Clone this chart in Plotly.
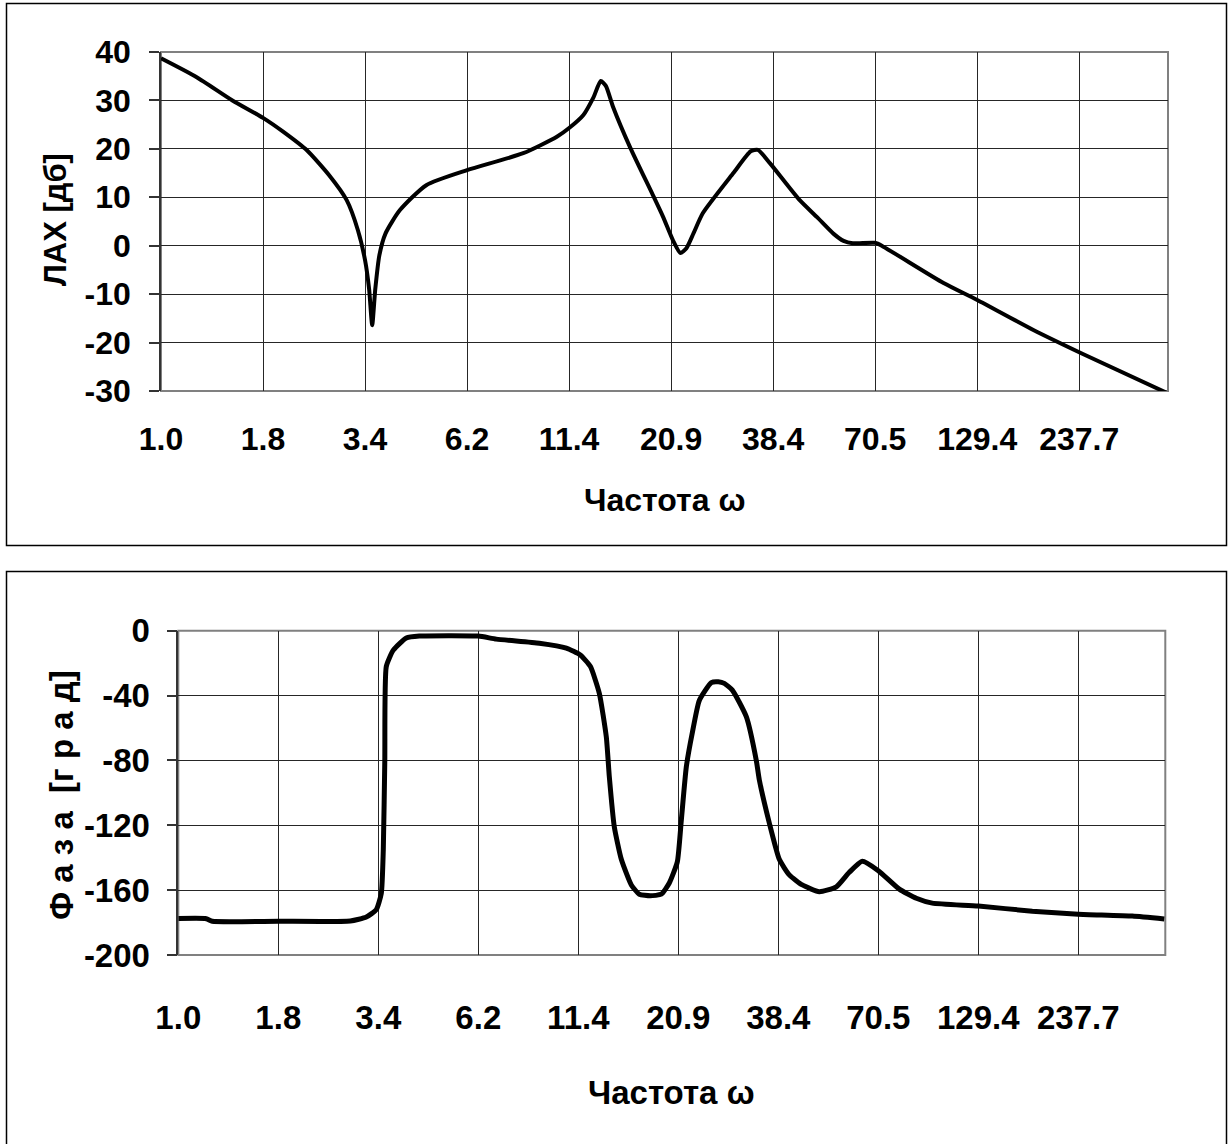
import plotly.graph_objects as go

# Frequency grid labels (equal spacing on a log scale)
tick_text = ["1.0", "1.8", "3.4", "6.2", "11.4", "20.9", "38.4", "70.5", "129.4", "237.7"]
tick_vals = [1.0, 1.8366, 3.3731, 6.1950, 11.378, 20.897, 38.379, 70.488, 129.46, 237.75]

mag_ticks = [-30, -20, -10, 0, 10, 20, 30, 40]
mag_tick_text = ["-30", "-20", "-10", "0", "10", "20", "30", "40"]
ph_ticks = [-200, -160, -120, -80, -40, 0]
ph_tick_text = ["-200", "-160", "-120", "-80", "-40", "0"]

# Magnitude response (ЛАХ), dB
w_mag = [1.000, 1.2371, 1.5304, 1.8366, 2.0740, 2.3853, 2.7266, 3.0234, 3.2325, 3.3731,
         3.4561, 3.5197, 3.5845, 3.6727, 3.8091, 4.1474, 4.8578, 6.1950, 8.6548, 10.577,
         11.378, 12.389, 13.166, 13.738, 14.162, 14.778, 16.387, 18.731, 19.905, 21.152,
         22.072, 22.892, 23.887, 25.230, 30.276, 33.572, 35.032, 37.683, 44.953, 49.847,
         54.940, 58.383, 61.666, 70.488, 73.995, 105.91, 129.46, 180.87, 240.66, 403.45]
mag_db = [38.7, 34.8, 30.0, 26.4, 23.5, 19.7, 14.5, 9.4, 3.2, -3.0,
          -9.0, -16.4, -9.0, -2.0, 2.5, 7.3, 12.5, 15.6, 19.1, 22.5,
          24.3, 27.0, 30.7, 34.0, 33.0, 28.7, 20.2, 10.5, 6.0, 1.0,
          -1.5, -0.5, 2.6, 6.7, 15.0, 19.5, 19.8, 17.0, 9.4, 5.9,
          2.5, 1.0, 0.5, 0.6, -0.2, -7.7, -11.2, -17.4, -22.2, -30.5]

# Phase response, degrees
w_ph = [1.000, 1.1856, 1.2296, 1.8366, 2.8451, 3.1357, 3.3325, 3.4352, 3.4772, 3.5091,
        3.5412, 3.6951, 3.9989, 4.3277, 6.1950, 6.9110, 8.9769, 10.577, 11.517, 12.239,
        12.928, 13.490, 13.738, 14.162, 14.778, 15.704, 16.486, 17.626, 18.845, 19.784,
        20.770, 21.281, 21.939, 22.754, 23.743, 25.540, 26.650, 27.640, 29.018, 31.595,
        33.572, 34.192, 36.335, 38.611, 41.032, 44.406, 49.245, 54.601, 59.096, 63.957,
        70.488, 80.081, 88.800, 97.871, 129.46, 179.77, 237.75, 330.19, 401.0]
phase_deg = [-177.5, -177.6, -179.2, -179.2, -179.0, -176.6, -172.0, -162.0, -135.0, -80.0,
             -22.0, -12.0, -4.5, -3.3, -3.3, -5.2, -7.7, -10.7, -15.0, -22.0,
             -38.6, -65.6, -90.0, -121.0, -141.0, -156.8, -162.5, -163.5, -162.5, -155.6,
             -142.6, -117.0, -84.0, -63.0, -43.0, -32.0, -31.5, -32.5, -36.6, -53.0,
             -80.0, -92.0, -118.6, -141.0, -150.6, -156.8, -161.0, -158.0, -149.0, -142.2,
             -148.0, -159.4, -165.0, -168.0, -169.8, -173.0, -174.8, -176.0, -177.8]

W, H = 1228, 1144
X_LOG_MAX = 2.6058  # right end of the frequency axis (log10)

def px_x(p):
    return p / W

def px_y(p):
    return 1 - p / H

FONT = "Liberation Sans, Arial, sans-serif"
GRID = "#262626"

fig = go.Figure()
fig.add_trace(go.Scatter(x=w_mag, y=mag_db, mode="lines", xaxis="x", yaxis="y",
                         line=dict(color="black", width=4, shape="spline", smoothing=0.6),
                         showlegend=False))
fig.add_trace(go.Scatter(x=w_ph, y=phase_deg, mode="lines", xaxis="x2", yaxis="y2",
                         line=dict(color="black", width=5, shape="spline", smoothing=0.5),
                         showlegend=False))

xcommon = dict(type="log", range=[0, X_LOG_MAX], tickmode="array", tickvals=tick_vals,
               ticktext=tick_text, showgrid=True, gridcolor=GRID, gridwidth=1,
               zeroline=False, showline=False, ticks="", tickangle=0, automargin=False)
ycommon = dict(showgrid=True, gridcolor=GRID, gridwidth=1, zeroline=False,
               showline=True, linecolor="#333333", linewidth=1.5, tickmode="array",
               ticks="outside", ticklen=10, tickcolor="#333333", tickwidth=1.5,
               automargin=False)

fig.update_layout(
    width=W, height=H, margin=dict(l=0, r=0, t=0, b=0, autoexpand=False),
    paper_bgcolor="white", plot_bgcolor="white", showlegend=False,
    xaxis=dict(**xcommon, domain=[px_x(161), px_x(1168)], anchor="y",
               tickfont=dict(family=FONT, size=32, color="black", weight="bold"),
               ticklabelstandoff=26),
    yaxis=dict(**ycommon, domain=[px_y(391), px_y(52)], anchor="x",
               range=[-30, 40], tickvals=mag_ticks, ticktext=mag_tick_text,
               tickfont=dict(family=FONT, size=32, color="black", weight="bold"),
               ticklabelstandoff=12),
    xaxis2=dict(**xcommon, domain=[px_x(178.3), px_x(1165.3)], anchor="y2",
                tickfont=dict(family=FONT, size=33, color="black", weight="bold"),
                ticklabelstandoff=40),
    yaxis2=dict(**ycommon, domain=[px_y(955), px_y(630.7)], anchor="x2",
                range=[-200, 0], tickvals=ph_ticks, ticktext=ph_tick_text,
                tickfont=dict(family=FONT, size=33, color="black", weight="bold"),
                ticklabelstandoff=10),
)

shapes = []
# outer frames of the two panels
shapes.append(dict(type="rect", xref="paper", yref="paper",
                   x0=px_x(6.5), x1=px_x(1226.5), y0=px_y(545.5), y1=px_y(3.5),
                   line=dict(color="black", width=1.5), fillcolor="rgba(0,0,0,0)"))
shapes.append(dict(type="rect", xref="paper", yref="paper",
                   x0=px_x(6.5), x1=px_x(1226.5), y0=px_y(1160), y1=px_y(571.5),
                   line=dict(color="black", width=1.5), fillcolor="rgba(0,0,0,0)"))
# plot-area borders
shapes.append(dict(type="rect", xref="x domain", yref="y domain", x0=0, x1=1, y0=0, y1=1,
                   line=dict(color="#808080", width=2), layer="below"))
shapes.append(dict(type="rect", xref="x2 domain", yref="y2 domain", x0=0, x1=1, y0=0, y1=1,
                   line=dict(color="#808080", width=2), layer="below"))
fig.update_layout(shapes=shapes)

ann = dict(xref="paper", yref="paper", showarrow=False, xanchor="center", yanchor="middle")
annotations = [
    dict(**ann, text="<b>Частота ω</b>", x=px_x(664), y=px_y(500),
         font=dict(family=FONT, size=32, color="black")),
    dict(**ann, text="<b>ЛАХ [дб]</b>", x=px_x(56), y=px_y(220), textangle=-90,
         font=dict(family=FONT, size=31, color="black")),
    dict(**ann, text="<b>Частота ω</b>", x=px_x(671), y=px_y(1092),
         font=dict(family=FONT, size=33, color="black")),
    dict(**ann, text="<b>Ф а з а  [г р а д]</b>", x=px_x(61), y=px_y(795), textangle=-90,
         font=dict(family=FONT, size=33, color="black")),
]
fig.update_layout(annotations=annotations)

fig.write_html("out.html")
